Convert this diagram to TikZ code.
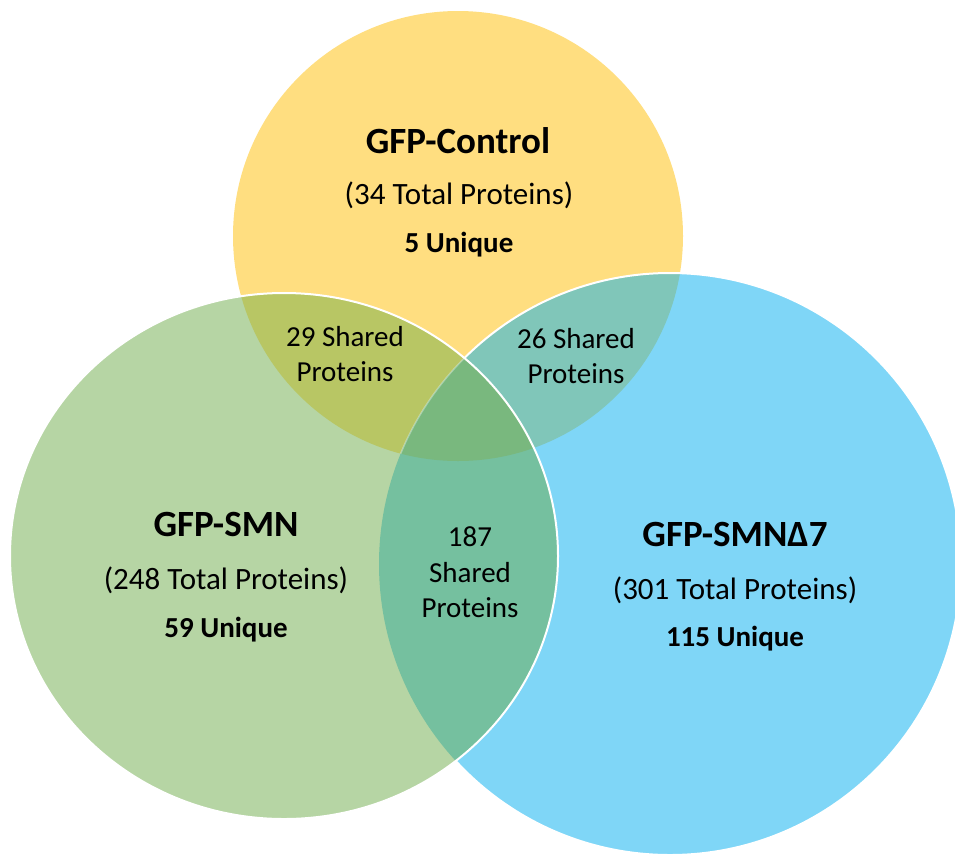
\documentclass[tikz,border=0pt]{standalone}
\usepackage{fontspec}
\setmainfont{Carlito}
\definecolor{cy}{HTML}{FFDE80}
\definecolor{cg}{HTML}{B6D5A4}
\definecolor{cb}{HTML}{7FD6F7}
\definecolor{cyg}{HTML}{B8C664}
\definecolor{cyb}{HTML}{80C6B9}
\definecolor{cgb}{HTML}{75C09F}
\definecolor{cygb}{HTML}{79B87E}
\def\Ypath{(458,236) circle [radius=225pt]}
\def\Gpath{(284,556) ellipse [x radius=274pt, y radius=263pt]}
\def\Bpath{(670,564) circle [radius=291pt]}
\tikzset{
  title/.style={inner sep=0pt, anchor=base, font=\fontsize{37}{44}\selectfont\bfseries},
  total/.style={inner sep=0pt, anchor=base, font=\fontsize{31}{37}\selectfont},
  uniq/.style={inner sep=0pt, anchor=base, font=\fontsize{29}{35}\selectfont\bfseries},
  shared/.style={inner sep=0pt, anchor=base, font=\fontsize{29}{35}\selectfont},
  edge/.style={draw=white, line width=2pt}
}
\begin{document}
\begin{tikzpicture}[x=1pt,y=-1pt]
\useasboundingbox (0,0) rectangle (955,855);
% base fills
\fill[cy] \Ypath;
\fill[cb] \Bpath;
\fill[cg] \Gpath;
% pairwise overlaps
\begin{scope}
  \clip \Ypath;
  \fill[cyg] \Gpath;
  \fill[cyb] \Bpath;
\end{scope}
\begin{scope}
  \clip \Gpath;
  \fill[cgb] \Bpath;
\end{scope}
% triple overlap
\begin{scope}
  \clip \Ypath;
  \clip \Gpath;
  \fill[cygb] \Bpath;
\end{scope}
% blue outline outside green
\begin{scope}[even odd rule]
  \clip (-50,-50) rectangle (1050,950) \Gpath;
  \path[edge] \Bpath;
\end{scope}
% faint blue outline inside green and yellow
\begin{scope}
  \clip \Ypath;
  \clip \Gpath;
  \path[edge, draw opacity=0.35, line width=1.5pt] \Bpath;
\end{scope}
% green outline
\path[edge] \Gpath;
% labels
\node[title] (ctl) at (458,153) {GFP-Control};
\node[total] (ctlT) at (459,204) {(34 Total Proteins)};
\node[uniq] (ctlU) at (459,252) {5 Unique};
\node[title] (smn) at (226,536) {GFP-SMN};
\node[total] (smnT) at (226,589) {(248 Total Proteins)};
\node[uniq] (smnU) at (226,637) {59 Unique};
\node[title] (del) at (735,546) {GFP-SMNΔ7};
\node[total] (delT) at (735,599) {(301 Total Proteins)};
\node[uniq] (delU) at (735,646) {115 Unique};
\node[shared] (s29a) at (345,346) {29 Shared};
\node[shared] (s29b) at (345,381) {Proteins};
\node[shared] (s26a) at (576,348) {26 Shared};
\node[shared] (s26b) at (576,383) {Proteins};
\node[shared] (s187a) at (470,546) {187};
\node[shared] (s187b) at (470,582) {Shared};
\node[shared] (s187c) at (470,617) {Proteins};
\end{tikzpicture}
\end{document}
